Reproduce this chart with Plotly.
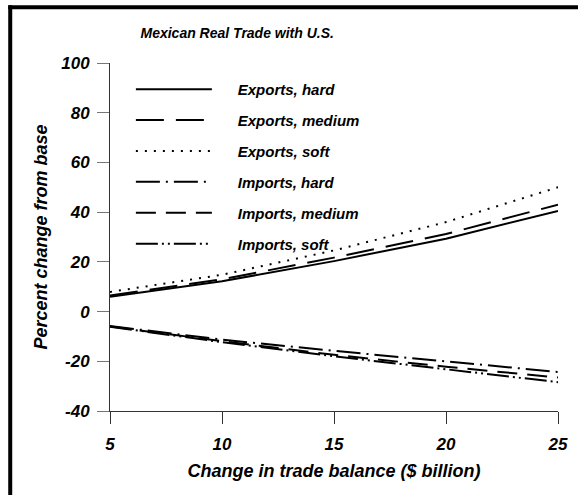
import plotly.graph_objects as go

x_vals = [5, 10, 15, 20, 25]
exports_hard = [6.0, 12.2, 20.3, 29.3, 40.5]
exports_medium = [6.5, 13.0, 21.7, 31.2, 43.0]
exports_soft = [7.9, 14.8, 24.6, 36.0, 50.0]
imports_hard = [-5.8, -11.3, -15.8, -20.2, -24.3]
imports_medium = [-6.0, -11.9, -17.4, -22.2, -26.5]
imports_soft = [-6.1, -12.3, -18.0, -23.1, -28.4]

series = [
    ("Exports, hard", exports_hard, "solid"),
    ("Exports, medium", exports_medium, "28px,12px"),
    ("Exports, soft", exports_soft, "2px,7px"),
    ("Imports, hard", imports_hard, "24px,6px,2px,6px"),
    ("Imports, medium", imports_medium, "20px,10px"),
    ("Imports, soft", imports_soft, "22px,4px,2px,4px,2px,4px"),
]

FONT = "Liberation Sans"
fig = go.Figure()
for i, (name, vals, dash) in enumerate(series):
    fig.add_trace(go.Scatter(
        x=x_vals, y=vals, mode="lines", name="\u00a0" * 5 + name,
        legendgroup=f"g{i}",
        line=dict(color="black", width=2, dash=dash),
    ))

fig.update_layout(
    width=578, height=495,
    margin=dict(l=110, r=10, t=63, b=84),
    paper_bgcolor="white", plot_bgcolor="white",
    showlegend=True,
    legend=dict(
        x=0.0466, y=0.9715, xanchor="left", yanchor="top",
        bgcolor="rgba(0,0,0,0)", itemwidth=76,
        traceorder="grouped", tracegroupgap=8.4,
        font=dict(family=FONT, size=15, color="black", weight="bold", style="italic"),
    ),
    title=dict(
        text="Mexican Real Trade with U.S.",
        x=0.284, xref="paper", xanchor="center", y=0.933, yanchor="middle",
        font=dict(family=FONT, size=14, color="black", weight="bold", style="italic"),
    ),
    xaxis=dict(
        range=[5, 25], tickvals=[5, 10, 15, 20, 25], ticktext=["5", "10", "15", "20", "25"],
        showline=True, linecolor="#333", linewidth=1,
        ticks="outside", ticklen=12, tickcolor="#333", tickwidth=1,
        ticklabelstandoff=6,
        showgrid=False, zeroline=False,
        tickfont=dict(family=FONT, size=17, color="black", weight="bold", style="italic"),
        title=dict(text="Change in trade balance ($ billion)", standoff=10,
                   font=dict(family=FONT, size=18, color="black", weight="bold", style="italic")),
    ),
    yaxis=dict(
        range=[-40, 100], tickvals=[-40, -20, 0, 20, 40, 60, 80, 100],
        ticktext=["-40", "-20", "0", "20", "40", "60", "80", "100"],
        showline=True, linecolor="#333", linewidth=1,
        ticks="outside", ticklen=12, tickcolor="#777", tickwidth=1,
        ticklabelstandoff=4,
        showgrid=False, zeroline=False,
        tickfont=dict(family=FONT, size=17, color="black", weight="bold", style="italic"),
        title=dict(text="Percent change from base", standoff=8,
                   font=dict(family=FONT, size=18, color="black", weight="bold", style="italic")),
    ),
    shapes=[
        dict(type="line", xref="paper", yref="paper", x0=(8 - 110) / 458, x1=(8 - 110) / 458,
             y0=(410.7 - 5) / 348, y1=(410.7 - 500) / 348, line=dict(color="black", width=4)),
        dict(type="line", xref="paper", yref="paper", x0=(6 - 110) / 458, x1=(590 - 110) / 458,
             y0=(410.7 - 7) / 348, y1=(410.7 - 7) / 348, line=dict(color="black", width=4)),
    ],
)

fig.write_html("out.html", config={"displayModeBar": False},
               post_script="document.body.style.margin='0';")
